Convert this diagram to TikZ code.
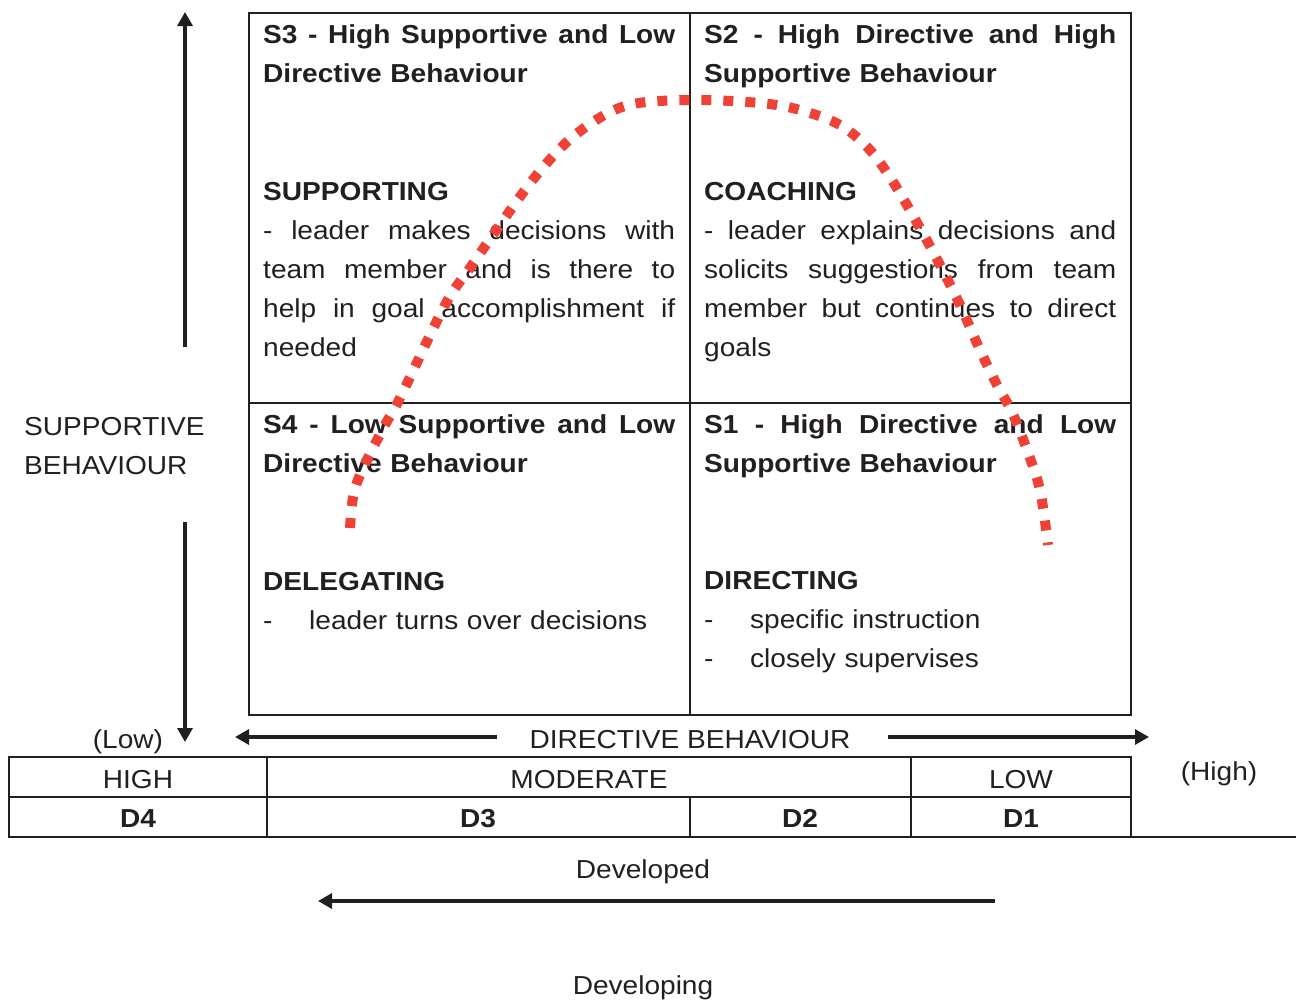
\documentclass[tikz,border=0pt]{standalone}
\usepackage{fontspec}
\setmainfont{Liberation Sans}[FakeStretch=1.08]
\usetikzlibrary{arrows.meta}

\definecolor{ink}{HTML}{231F20}
\definecolor{arc}{HTML}{EF4136}

% one justified line of a cell, and one hanging list item
\newcommand{\jline}[1]{\leavevmode\hbox to 412pt{\spaceskip=.28em plus 1fil\relax #1}}
\newcommand{\dashitem}[1]{\makebox[46pt][l]{-}#1}

\begin{document}
\begin{tikzpicture}[x=1pt,y=-1pt,
  cell/.style={inner sep=0,anchor=base west,text width=414pt,align=left,text=ink,font=\fontsize{26}{39}\selectfont},
  head/.style={cell,font=\fontsize{26}{38.5}\selectfont\bfseries},
  lbl/.style={inner sep=0,anchor=base,text=ink,font=\fontsize{26}{39}\selectfont},
  axisarrow/.style={ink,line width=3.2pt,-{Triangle[length=14pt,width=15pt]}},
  frame/.style={ink,line width=2pt}]

\useasboundingbox (0,0) rectangle (1296,999);

% quadrants
\draw[frame] (249,13) rectangle (1131,715);
\draw[frame] (690,13) -- (690,715);
\draw[frame] (249,403) -- (1131,403);

\node[head] (S3t) at (263,43.5) {\jline{S3 - High Supportive and Low}\\Directive Behaviour};
\node[cell] (S3b) at (263,200) {\textbf{SUPPORTING}\\
  \jline{- leader makes decisions with}\\
  \jline{team member and is there to}\\
  \jline{help in goal accomplishment if}\\
  needed};

\node[head] (S2t) at (704,43.5) {\jline{S2 - High Directive and High}\\Supportive Behaviour};
\node[cell] (S2b) at (704,200) {\textbf{COACHING}\\
  \jline{- leader explains decisions and}\\
  \jline{solicits suggestions from team}\\
  \jline{member but continues to direct}\\
  goals};

\node[head] (S4t) at (263,433.5) {\jline{S4 - Low Supportive and Low}\\Directive Behaviour};
\node[cell] (S4b) at (263,590) {\textbf{DELEGATING}\\
  \dashitem{leader turns over decisions}};

\node[head] (S1t) at (704,433.5) {\jline{S1 - High Directive and Low}\\Supportive Behaviour};
\node[cell] (S1b) at (704,589) {\textbf{DIRECTING}\\
  \dashitem{specific instruction}\\
  \dashitem{closely supervises}};

% supportive axis
\node[cell,text width=200pt] (Sup) at (24,435) {SUPPORTIVE\\BEHAVIOUR};
\coordinate (Upa) at (185,347);
\coordinate (Upb) at (185,12);
\coordinate (Dna) at (185,522);
\coordinate (Dnb) at (185,742);
\draw[axisarrow] (Upa) -- (Upb);
\draw[axisarrow] (Dna) -- (Dnb);

% directive axis
\node[lbl] (Low) at (128,748) {(Low)};
\node[lbl] (Dir) at (690,748) {DIRECTIVE BEHAVIOUR};
\node[lbl] (High) at (1219,780) {(High)};
\coordinate (Lfa) at (497,737);
\coordinate (Lfb) at (235,737);
\coordinate (Rta) at (888,737);
\coordinate (Rtb) at (1149,737);
\draw[axisarrow] (Lfa) -- (Lfb);
\draw[axisarrow] (Rta) -- (Rtb);

% development table
\draw[frame] (9,757) rectangle (1131,837);
\draw[frame] (9,797) -- (1131,797);
\draw[frame] (267,757) -- (267,837);
\draw[frame] (911,757) -- (911,837);
\draw[frame] (690,797) -- (690,837);
\draw[frame] (1131,837) -- (1296,837);

\node[lbl] (Hi) at (138,788) {HIGH};
\node[lbl] (Mod) at (589,788) {MODERATE};
\node[lbl] (Lo) at (1021,788) {LOW};
\node[lbl,font=\fontsize{26}{39}\selectfont\bfseries] (D4) at (138,827) {D4};
\node[lbl,font=\fontsize{26}{39}\selectfont\bfseries] (D3) at (478,827) {D3};
\node[lbl,font=\fontsize{26}{39}\selectfont\bfseries] (D2) at (800,827) {D2};
\node[lbl,font=\fontsize{26}{39}\selectfont\bfseries] (D1) at (1021,827) {D1};

\node[lbl] (Dvd) at (643,878) {Developed};
\node[lbl] (Dvg) at (643,994) {Developing};
\coordinate (Deva) at (995,901);
\coordinate (Devb) at (318,901);
\draw[axisarrow] (Deva) -- (Devb);

% style curve
\draw[arc,line width=10pt,dash pattern=on 10pt off 12pt]
  plot[smooth,tension=0.55] coordinates {(350,528) (354,492) (366,462) (385,425)
    (400,398) (445,305) (470,268) (495,232) (535,177) (575,135) (625,106)
    (690,100) (760,103) (800,110) (840,125) (870,150) (895,185) (920,228)
    (940,265) (960,305) (980,350) (997,385) (1012,412) (1027,450) (1040,490)
    (1048,545)};

\end{tikzpicture}
\end{document}
